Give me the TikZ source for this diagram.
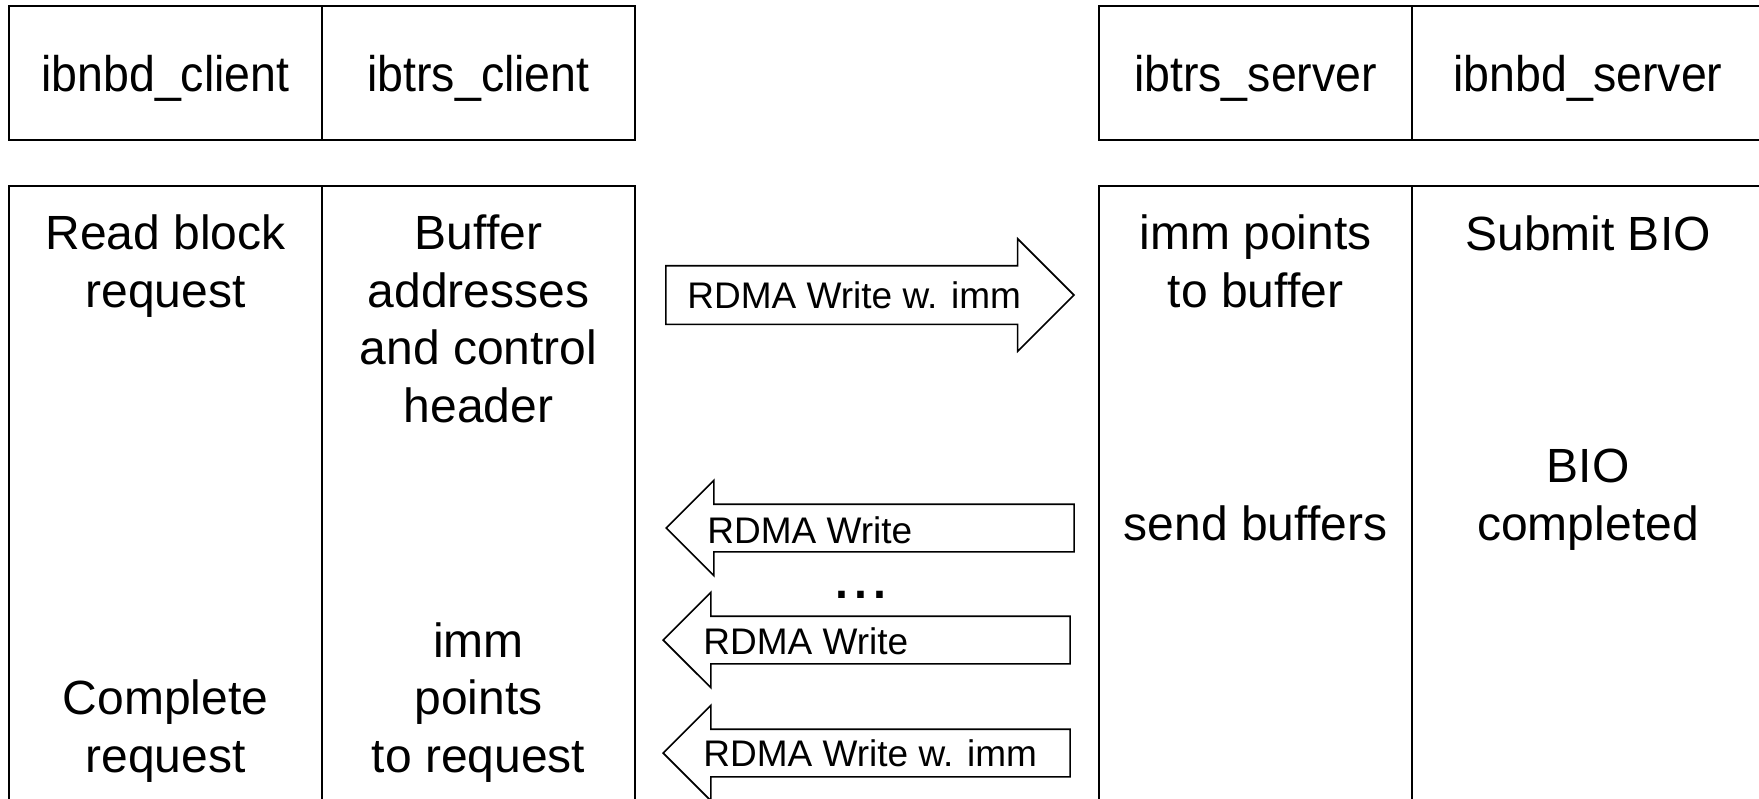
\documentclass[tikz,border=0pt]{standalone}
\usepackage{fontspec}
\setmainfont{Liberation Sans}
\newfontfamily\narrowfont[FakeStretch=0.93]{Liberation Sans}
\usetikzlibrary{shapes.arrows}
\begin{document}
\begin{tikzpicture}[x={(0.5pt,0pt)}, y={(0pt,-0.5pt)},
  cell/.style={draw, line width=1pt, minimum width=156.5pt, minimum height=67pt, inner sep=0pt, text height=18pt, text depth=0pt, font=\narrowfont\fontsize{25pt}{30pt}\selectfont},
  txt/.style={anchor=base, align=center, inner sep=0pt, font=\fontsize{24pt}{28.75pt}\selectfont},
  rdma/.style={single arrow, draw, line width=0.8pt, inner xsep=0pt, anchor=tip},
  lbl/.style={anchor=west, inner sep=0pt, font=\fontsize{18.5pt}{22pt}\selectfont}]
\useasboundingbox (0,0) rectangle (1759,798);
\node[cell] (ibnbdc) at (165.5,73) {ibnbd\_client};
\node[cell] (ibtrsc) at (478.5,73) {ibtrs\_client};
\node[cell] (ibtrss) at (1255.5,73) {ibtrs\_server};
\node[cell, minimum width=176pt] (ibnbds) at (1588,73) {ibnbd\_server};
\foreach \a/\b in {9/322, 322/635, 1099/1412, 1412/1764} {\draw[line width=1pt] (\a,186) rectangle (\b,815);}
\node[txt] (readreq) at (165.5,307) {Read block\\request};
\node[txt] (bufaddr) at (478.5,422) {Buffer\\addresses\\and control\\header};
\node[txt] (immbuf) at (1255.5,307) {imm points\\to buffer};
\node[txt] (submit) at (1588,250) {Submit BIO};
\node[txt] (sendbuf) at (1255.5,540) {send buffers};
\node[txt] (biodone) at (1588,540) {BIO\\completed};
\node[txt] (immreq) at (478.5,772) {imm\\points\\to request};
\node[txt] (complete) at (165.5,772) {Complete\\request};
\node[rdma, minimum height=204pt, inner ysep=14.25pt, single arrow head extend=13.5pt] (wimm) at (1075,295) {};
\node[rdma, shape border rotate=180, minimum height=204pt, inner ysep=11.5pt, single arrow head extend=12pt] (wra) at (665,528) {};
\node[rdma, shape border rotate=180, minimum height=203.5pt, inner ysep=11.5pt, single arrow head extend=12pt] (wrb) at (662,640) {};
\node[rdma, shape border rotate=180, minimum height=203.5pt, inner ysep=11.5pt, single arrow head extend=12pt] (wrimm) at (662,753) {};
\node[lbl] (wimmtxt) at (687,295) {RDMA Write w. imm};
\node[lbl] (wratxt) at (707,530) {RDMA Write};
\node[lbl] (wrbtxt) at (703,641) {RDMA Write};
\node[lbl] (wrimmtxt) at (703,753) {RDMA Write w. imm};
\node[anchor=base, inner sep=0pt, font=\fontsize{34pt}{40pt}\selectfont] (more) at (861,598) {...};
\end{tikzpicture}
\end{document}
